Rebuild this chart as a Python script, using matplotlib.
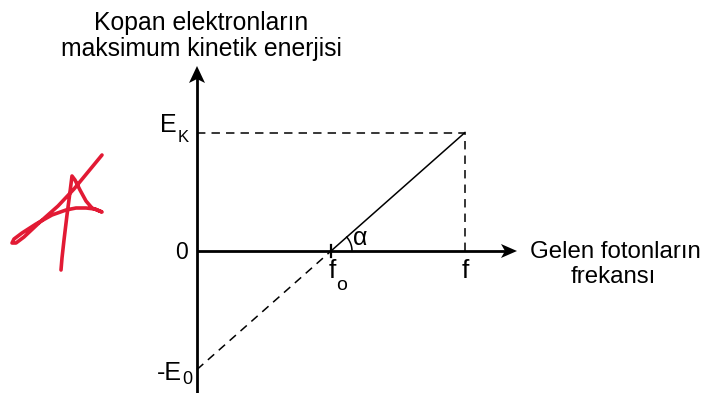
import numpy as np
import matplotlib.pyplot as plt
from matplotlib.patches import Polygon

# fotoelektrik olay: Ek = h*f - E0
f0 = 1.0          # eşik frekansı
f = 2.0           # gelen foton frekansı
E0 = 1.0          # bağlanma enerjisi
EK = 1.0          # kopan elektronun kinetik enerjisi

freq = [0.0, f0, f]
energy = [-E0, 0.0, EK]

plt.rcParams['font.family'] = ['Liberation Sans', 'DejaVu Sans']

fig = plt.figure(figsize=(7.04, 3.93), dpi=100)
ax = fig.add_axes([0, 0, 1, 1])
sx, sy = 134.0, 118.5           # piksel / birim
ax.set_xlim(-197 / sx, (704 - 197) / sx)
ax.set_ylim(-(393 - 251) / sy, 251 / sy)
ax.axis('off')


def ok_ucu(x, y, dx, dy, L=17, W=15, notch=4):
    # içbükey arkalı dolu ok ucu, boyutlar piksel cinsinden
    px, py = -dy, dx
    pts = [(0, 0),
           (-L * dx + W / 2 * px, -L * dy + W / 2 * py),
           (-(L - notch) * dx, -(L - notch) * dy),
           (-L * dx - W / 2 * px, -L * dy - W / 2 * py)]
    ax.add_patch(Polygon([(x + a / sx, y + b / sy) for a, b in pts],
                         closed=True, color='black', lw=0))


# eksenler
x_end = (517 - 197) / sx
y_end = (251 - 66) / sy
y_bot = -(393 - 251) / sy
ax.plot([0, 0], [y_bot, y_end - 12 / sy], color='black', lw=2.0, solid_capstyle='butt')
ax.plot([0, x_end - 12 / sx], [0, 0], color='black', lw=2.0, solid_capstyle='butt')
ok_ucu(0, y_end, 0, 1, L=17, W=16)
ok_ucu(x_end, 0, 1, 0, L=16, W=14)

dash = (0, (5.5, 4))
# doğru: f0'dan sonra düz, öncesi kesikli
ax.plot(freq[1:], energy[1:], color='black', lw=1.1)
ax.plot(freq[:2], energy[:2], color='black', lw=1.1, ls=dash)

# kesikli yardımcı çizgiler
ax.plot([0, f], [EK, EK], color='black', lw=1.1, ls=dash)
ax.plot([f, f], [0, EK], color='black', lw=1.1, ls=dash)

# f0 işareti
ax.plot([f0, f0], [-6 / sy, 6 / sy], color='black', lw=1.6)

# alfa açısı yayı
r = 21
alpha = np.arctan2(EK * sy, (f - f0) * sx)
t = np.linspace(0, alpha, 40)
ax.plot(f0 + r * np.cos(t) / sx, r * np.sin(t) / sy, color='black', lw=1.1)


def yazi(s, x, y, dx, dy, fs, ha='left'):
    ax.annotate(s, xy=(x, y), xytext=(dx, dy), textcoords='offset pixels',
                ha=ha, va='baseline', fontsize=fs)


# eksen başlıkları
yazi('Kopan elektronların', 0, 0, 4.5, 221, 17.8, 'center')
yazi('maksimum kinetik enerjisi', 0, 0, 4.5, 195, 17.8, 'center')
yazi('Gelen fotonların', x_end, 0, 13, -7, 17.3)
yazi('frekansı', x_end, 0, 96, -32, 17.3, 'center')

# eksen değerleri
yazi('E', 0, EK, -20, 0, 18, 'right')
yazi('K', 0, EK, -19, -9, 12)
yazi('0', 0, 0, -9, -8, 16.5, 'right')
yazi('-E', 0, -E0, -15, -10, 18, 'right')
yazi('0', 0, -E0, -15, -15, 13)
yazi('f', f0, 0, 1, -27, 19, 'center')
yazi('o', f0, 0, 5, -39, 14)
yazi('f', f, 0, 0.5, -27, 19, 'center')
yazi('\u03b1', f0, 0, 22, 6, 18)

# kırmızı imza (piksel koordinatlarında ayrı katman)
ov = fig.add_axes([0, 0, 1, 1])
ov.set_xlim(0, 704)
ov.set_ylim(393, 0)
ov.axis('off')
sig_x = [61, 62, 64, 67, 70, 72, 75, 80, 86, 92, 102, 95, 86, 76, 66, 52, 36, 22, 14, 12, 16, 24,
         40, 58, 74, 88, 102]
sig_y = [270, 258, 240, 215, 192, 176, 180, 190, 201, 208, 212, 209, 208, 208, 210, 215, 224, 233, 239, 243,
         243, 237, 222, 206, 189, 172, 155]
ov.plot(sig_x, sig_y, color='#e21a34', lw=2.6, solid_capstyle='round', solid_joinstyle='round')

fig.savefig('out.png', dpi=100)
